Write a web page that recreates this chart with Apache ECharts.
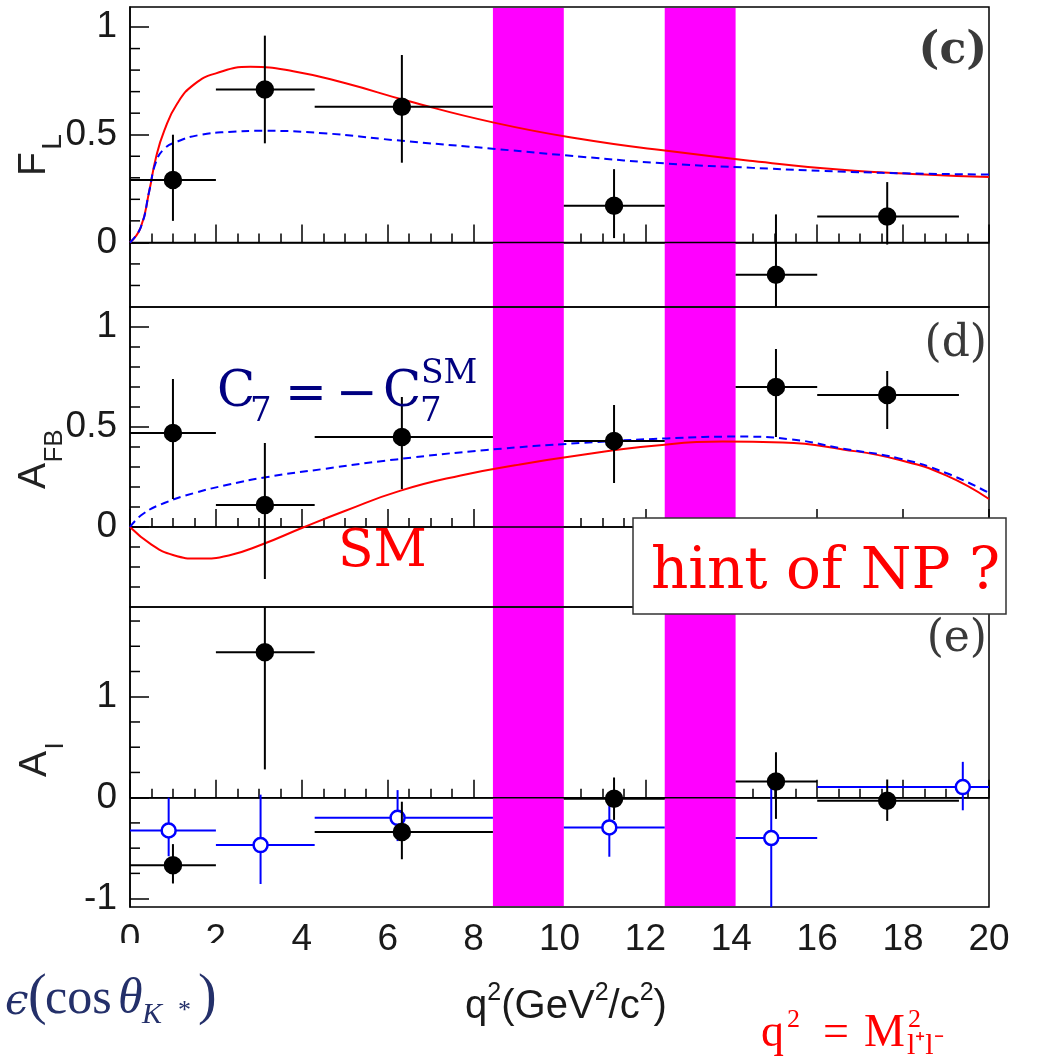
<!DOCTYPE html>
<html>
<head>
<meta charset="utf-8">
<script src="https://cdn.jsdelivr.net/npm/echarts@6/dist/echarts.min.js"></script>
<style>
html, body { margin: 0; padding: 0; background: #fff; }
#chart { width: 1037px; height: 1060px; }
</style>
</head>
<body>
<div id="chart"></div>
<script>
// q^2 range and the charmonium veto bands
var qMin = 0, qMax = 20;
var bandLo = [8.45, 12.45];
var bandHi = [10.1, 14.1];

// K* bins (black points)
var binLo = [0, 2, 4.3, 10.1, 14.1, 16];
var binHi = [2, 4.3, 8.45, 12.45, 16, 19.3];
var binMid = [1.0, 3.14, 6.33, 11.27, 15.04, 17.63];

var flVal = [0.29, 0.71, 0.63, 0.17, -0.15, 0.12];
var flUp = [0.21, 0.25, 0.24, 0.17, 0.28, 0.16];
var flDn = [0.19, 0.25, 0.26, 0.15, 0.30, 0.13];

var afbVal = [0.47, 0.11, 0.45, 0.43, 0.70, 0.66];
var afbUp = [0.27, 0.31, 0.20, 0.18, 0.19, 0.12];
var afbDn = [0.33, 0.37, 0.26, 0.21, 0.25, 0.17];

var aiVal = [-0.67, 1.44, -0.34, -0.01, 0.16, -0.03];
var aiUp = [0.21, 0.50, 0.30, 0.21, 0.29, 0.21];
var aiDn = [0.18, 1.16, 0.27, 0.21, 0.37, 0.20];

// K bins (blue open points)
var kMid = [0.9, 3.04, 6.23, 11.16, 14.93, 19.39];
var kLo = [0, 2, 4.3, 10.1, 14.1, 16];
var kHi = [2, 4.3, 8.45, 12.45, 16, 20];
var aiKVal = [-0.325, -0.47, -0.20, -0.295, -0.40, 0.105];
var aiKUp = [0.325, 0.50, 0.275, 0.245, 0.50, 0.25];
var aiKDn = [0.255, 0.385, 0.23, 0.29, 0.80, 0.23];

// theory curves: SM (red) and C7 = -C7SM (blue dashed)
var flSmX = [0, 0.25, 0.45, 0.6, 0.8, 1.1, 1.5, 2.0, 2.8, 3.8, 5.0, 6.5, 8.5, 10.5, 12.5, 14.5, 16.5, 18.5, 20];
var flSmY = [0, 0.07, 0.24, 0.39, 0.52, 0.645, 0.735, 0.785, 0.815, 0.795, 0.74, 0.655, 0.555, 0.48, 0.425, 0.378, 0.338, 0.315, 0.304];
var flC7X = [0, 0.25, 0.45, 0.6, 0.8, 1.1, 1.6, 2.3, 3.1, 4.5, 6.2, 8.5, 10.5, 12.5, 14.5, 16.5, 18.5, 20];
var flC7Y = [0, 0.07, 0.24, 0.37, 0.435, 0.468, 0.498, 0.513, 0.518, 0.507, 0.474, 0.434, 0.398, 0.366, 0.346, 0.329, 0.319, 0.315];
var afbSmX = [0, 0.5, 1.0, 1.6, 2.3, 3.1, 4.0, 5.0, 6.3, 7.7, 9.0, 10.5, 12.2, 13.8, 15.2, 16.6, 17.9, 19.0, 20];
var afbSmY = [0, -0.088, -0.14, -0.158, -0.142, -0.085, -0.005, 0.08, 0.182, 0.258, 0.31, 0.36, 0.406, 0.427, 0.422, 0.388, 0.336, 0.258, 0.14];
var afbC7X = [0, 0.3, 0.8, 1.5, 2.3, 3.2, 4.5, 6.2, 8.3, 10.5, 12.5, 14.2, 15.4, 16.6, 17.9, 19.0, 20];
var afbC7Y = [0, 0.065, 0.12, 0.17, 0.212, 0.25, 0.29, 0.338, 0.385, 0.42, 0.443, 0.452, 0.438, 0.392, 0.343, 0.27, 0.17];

// y ranges and ticks per panel
var yMin = [-0.3, -0.4, -1.083];
var yMax = [1.093, 1.1, 1.889];
var yMajor = [[0, 0.5, 1], [0, 0.5, 1], [-1, 0, 1]];
var yMinor = [
  [-0.2, -0.1, 0.1, 0.2, 0.3, 0.4, 0.6, 0.7, 0.8, 0.9],
  [-0.3, -0.2, -0.1, 0.1, 0.2, 0.3, 0.4, 0.6, 0.7, 0.8, 0.9],
  [-0.75, -0.5, -0.25, 0.25, 0.5, 0.75, 1.25, 1.5, 1.75]
];

var chart = echarts.init(document.getElementById('chart'));

var sansFont = '"Liberation Sans", Arial, sans-serif';
var serifFont = '"DejaVu Serif", serif';
var timesFont = '"Liberation Serif", "Times New Roman", serif';

var grids = [0, 1, 2].map(function (i) {
  return { left: 130, top: 7 + i * 300, width: 859, height: 300, show: true, borderColor: '#000', borderWidth: 1.5, backgroundColor: 'transparent' };
});

var xAxes = [0, 1, 2].map(function (i) {
  return {
    type: 'value', gridIndex: i, min: qMin, max: qMax, interval: 2,
    axisLine: { show: true, lineStyle: { color: '#000', width: 1.5 } },
    axisTick: { inside: true, length: 18, lineStyle: { color: '#000', width: 1.5 } },
    minorTick: { show: true, splitNumber: 4, length: 9, lineStyle: { color: '#000', width: 1.5 } },
    splitLine: { show: false },
    axisLabel: { show: i === 2, margin: 14, fontSize: 37, fontFamily: sansFont, color: '#1a1a1a' }
  };
});

var yAxes = [0, 1, 2].map(function (i) {
  return {
    type: 'value', gridIndex: i, position: 'left', min: yMin[i], max: yMax[i],
    axisLine: { show: true, lineStyle: { color: '#000', width: 1.5 } },
    axisTick: { inside: true, length: 19, customValues: yMajor[i], lineStyle: { color: '#000', width: 1.5 } },
    splitLine: { show: false },
    axisLabel: { customValues: yMajor[i], margin: 13, fontSize: 37, fontFamily: sansFont, color: '#1a1a1a' }
  };
});

function pairs(xs, ys) {
  return xs.map(function (x, k) { return [x, ys[k]]; });
}

function points(mid, lo, hi, val, up, dn) {
  return mid.map(function (m, k) { return [m, val[k], lo[k], hi[k], val[k] - dn[k], val[k] + up[k]]; });
}

// short y ticks drawn on the left edge at the minor values
function minorTickSeries(i) {
  return {
    type: 'custom', xAxisIndex: i, yAxisIndex: i, silent: true, z: 2,
    data: yMinor[i].map(function (v) { return [qMin, v]; }),
    encode: { x: 0, y: 1 },
    renderItem: function (params, api) {
      var p = api.coord([api.value(0), api.value(1)]);
      return { type: 'line', shape: { x1: p[0], y1: p[1], x2: p[0] + 10, y2: p[1] }, style: { stroke: '#000', lineWidth: 1.5 } };
    }
  };
}

function bandSeries(i) {
  return {
    type: 'custom', xAxisIndex: i, yAxisIndex: i, silent: true, z: 1,
    data: bandLo.map(function (b, k) { return [b, bandHi[k]]; }),
    encode: { x: [0, 1] },
    renderItem: function (params, api) {
      var cs = params.coordSys;
      var a = api.coord([api.value(0), 0]);
      var b = api.coord([api.value(1), 0]);
      return { type: 'rect', shape: { x: a[0], y: cs.y + 1, width: b[0] - a[0], height: cs.height - 2 }, style: { fill: '#ff00ff' } };
    }
  };
}

function zeroSeries(i) {
  return {
    type: 'line', xAxisIndex: i, yAxisIndex: i, silent: true, z: 3,
    data: [[qMin, 0], [qMax, 0]], symbol: 'none',
    lineStyle: { color: '#000', width: 1.5 }
  };
}

function curveSeries(i, xs, ys, color, dashed) {
  return {
    type: 'line', xAxisIndex: i, yAxisIndex: i, silent: true, z: 4,
    data: pairs(xs, ys), symbol: 'none', smooth: 0.5,
    lineStyle: { color: color, width: 2, type: dashed ? [8, 5] : 'solid' }
  };
}

function errorSeries(i, data, color, filled, z) {
  return {
    type: 'custom', xAxisIndex: i, yAxisIndex: i, silent: true, z: z, clip: true,
    data: data, encode: { x: 0, y: 1 },
    renderItem: function (params, api) {
      var c = api.coord([api.value(0), api.value(1)]);
      var xl = api.coord([api.value(2), api.value(1)]);
      var xh = api.coord([api.value(3), api.value(1)]);
      var yl = api.coord([api.value(0), api.value(4)]);
      var yh = api.coord([api.value(0), api.value(5)]);
      var st = { stroke: color, lineWidth: 2 };
      return {
        type: 'group', children: [
          { type: 'line', shape: { x1: xl[0], y1: c[1], x2: xh[0], y2: c[1] }, style: st },
          { type: 'line', shape: { x1: c[0], y1: yl[1], x2: c[0], y2: yh[1] }, style: st },
          { type: 'circle', shape: { cx: c[0], cy: c[1], r: filled ? 8 : 7 }, style: { fill: filled ? color : '#fff', stroke: color, lineWidth: 2.5 } }
        ]
      };
    }
  };
}

var series = [
  minorTickSeries(0), minorTickSeries(1), minorTickSeries(2),
  bandSeries(0), bandSeries(1), bandSeries(2),
  zeroSeries(0), zeroSeries(1), zeroSeries(2),
  curveSeries(0, flSmX, flSmY, '#ff0000', false),
  curveSeries(0, flC7X, flC7Y, '#0000ff', true),
  curveSeries(1, afbSmX, afbSmY, '#ff0000', false),
  curveSeries(1, afbC7X, afbC7Y, '#0000ff', true),
  errorSeries(0, points(binMid, binLo, binHi, flVal, flUp, flDn), '#000', true, 6),
  errorSeries(1, points(binMid, binLo, binHi, afbVal, afbUp, afbDn), '#000', true, 6),
  errorSeries(2, points(kMid, kLo, kHi, aiKVal, aiKUp, aiKDn), '#0000ff', false, 5),
  errorSeries(2, points(binMid, binLo, binHi, aiVal, aiUp, aiDn), '#000', true, 6)
];

function txt(text, x, y, font, fill, align, extra) {
  var el = {
    type: 'text', x: x, y: y, z: 100, silent: true,
    style: { text: text, font: font, fill: fill, align: align || 'left', verticalAlign: 'middle', textAlign: align || 'left', textVerticalAlign: 'middle' }
  };
  if (extra) { for (var k in extra) { el[k] = extra[k]; } }
  return el;
}

var navy = '#000080';
var inkBlue = '#24306a';
var rot = { rotation: Math.PI / 2 };

var graphics = [
  // axis titles
  txt('F', 34, 164, '39px ' + sansFont, '#222', 'center', rot),
  txt('L', 53, 142, '28px ' + sansFont, '#222', 'center', rot),
  txt('A', 34, 476, '39px ' + sansFont, '#222', 'center', rot),
  txt('FB', 55, 446, '26px ' + sansFont, '#222', 'center', rot),
  txt('A', 35, 764, '39px ' + sansFont, '#222', 'center', rot),
  txt('I', 56, 746, '26px ' + sansFont, '#222', 'center', rot),
  // panel tags
  txt('(c)', 987, 52, 'bold 44px ' + serifFont, '#3a3a3a', 'right'),
  txt('(d)', 987, 345, '44px ' + serifFont, '#3a3a3a', 'right'),
  txt('(e)', 987, 640, '44px ' + serifFont, '#3a3a3a', 'right'),
  // C7 = -C7^SM
  txt('C', 217, 393, '50px ' + serifFont, navy),
  txt('7', 250, 412, '34px ' + serifFont, navy),
  txt('=', 306, 396, '50px ' + serifFont, navy, 'center'),
  txt('\u2212', 357, 396, '50px ' + serifFont, navy, 'center'),
  txt('C', 383, 393, '50px ' + serifFont, navy),
  txt('7', 420, 412, '34px ' + serifFont, navy),
  txt('SM', 421, 374, '33px ' + serifFont, navy),
  // SM
  txt('SM', 338, 552, '52px ' + serifFont, '#ff0000'),
  // hint box
  { type: 'rect', z: 99, silent: true, shape: { x: 633, y: 518, width: 373, height: 96 }, style: { fill: '#fff', stroke: '#333', lineWidth: 1.5 } },
  txt('hint of NP ?', 651, 573, '58px ' + serifFont, '#ff0000'),
  // cover under lower-left
  { type: 'rect', z: 90, silent: true, shape: { x: 0, y: 943, width: 250, height: 117 }, style: { fill: '#fff' } },
  // epsilon(cos theta_K*)
  txt('\u03f5', 5, 1003, 'italic 42px ' + serifFont, inkBlue),
  txt('(', 28, 998, '56px ' + timesFont, inkBlue),
  txt('cos', 45, 1000, '50px ' + timesFont, inkBlue),
  txt('\u03b8', 118, 1000, 'italic 50px ' + timesFont, inkBlue),
  txt('K', 142, 1015, 'italic 30px ' + timesFont, inkBlue),
  txt('*', 178, 1011, '26px ' + timesFont, inkBlue),
  txt(')', 198, 998, '56px ' + timesFont, inkBlue),
  // axis title q^2(GeV^2/c^2)
  {
    type: 'text', x: 566, y: 1004, z: 100, silent: true,
    style: {
      text: '{n|q}{u|2}{n|(GeV}{u|2}{n|/c}{u|2}{n|)}',
      align: 'center', verticalAlign: 'middle', textAlign: 'center', textVerticalAlign: 'middle',
      rich: {
        n: { fontSize: 40, fontFamily: sansFont, fill: '#1a1a1a', color: '#1a1a1a', lineHeight: 46, verticalAlign: 'bottom' },
        u: { fontSize: 25, fontFamily: sansFont, fill: '#1a1a1a', color: '#1a1a1a', lineHeight: 28, verticalAlign: 'top' }
      }
    }
  },
  // q^2 = M^2_{l+l-}
  txt('q', 761, 1034, '46px ' + timesFont, '#ff0000'),
  txt('2', 787, 1020, '26px ' + timesFont, '#ff0000'),
  txt('=', 836, 1034, '46px ' + timesFont, '#ff0000', 'center'),
  txt('M', 864, 1034, '46px ' + timesFont, '#ff0000'),
  txt('2', 908, 1020, '26px ' + timesFont, '#ff0000'),
  txt('l\u207al\u207b', 907, 1046, '30px ' + timesFont, '#ff0000')
];

var option = {
  animation: false,
  backgroundColor: '#fff',
  grid: grids,
  xAxis: xAxes,
  yAxis: yAxes,
  series: series,
  graphic: graphics
};

chart.setOption(option);
</script>
</body>
</html>
